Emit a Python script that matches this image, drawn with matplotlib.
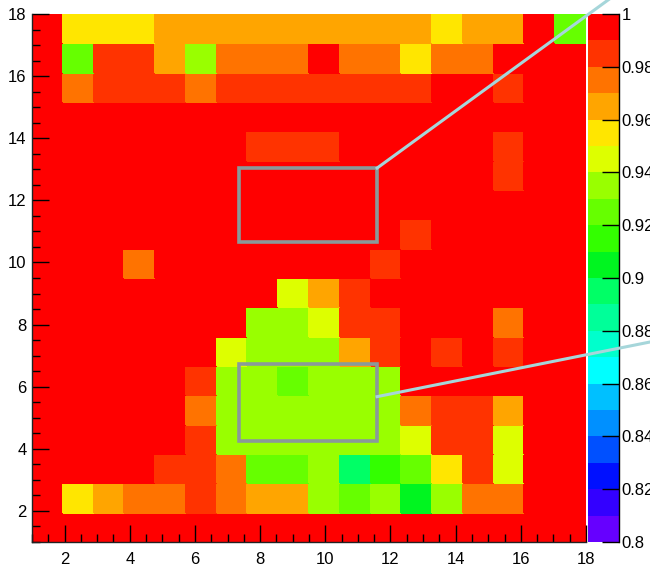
import numpy as np
import matplotlib
matplotlib.use('Agg')
from matplotlib import pyplot as plt
from matplotlib.colors import ListedColormap, BoundaryNorm
from matplotlib.patches import Rectangle
from matplotlib.lines import Line2D
from matplotlib.ticker import MultipleLocator

plt.rcParams['font.family'] = ['Liberation Sans Narrow', 'Liberation Sans', 'DejaVu Sans']

# 18 x 18 bins between 1 and 18 on both axes
x_edges = np.linspace(1, 18, 19)
y_edges = np.linspace(1, 18, 19)

# value levels as read from the palette
R, RO, O, LO, Y = 0.995, 0.985, 0.975, 0.965, 0.955
YG, GY, CH, G1, G0, SG = 0.945, 0.935, 0.925, 0.915, 0.905, 0.895

# rows from top (y bin 18) to bottom (y bin 1)
cells = [
    [R, Y, Y, Y, LO, LO, LO, LO, LO, LO, LO, LO, LO, Y, LO, LO, R, CH],
    [R, CH, RO, RO, LO, GY, O, O, O, R, O, O, Y, O, O, R, R, R],
    [R, O, RO, RO, RO, O, RO, RO, RO, RO, RO, RO, RO, R, R, RO, R, R],
    [R, R, R, R, R, R, R, R, R, R, R, R, R, R, R, R, R, R],
    [R, R, R, R, R, R, R, RO, RO, RO, R, R, R, R, R, RO, R, R],
    [R, R, R, R, R, R, R, R, R, R, R, R, R, R, R, RO, R, R],
    [R, R, R, R, R, R, R, R, R, R, R, R, R, R, R, R, R, R],
    [R, R, R, R, R, R, R, R, R, R, R, R, RO, R, R, R, R, R],
    [R, R, R, O, R, R, R, R, R, R, R, RO, R, R, R, R, R, R],
    [R, R, R, R, R, R, R, R, YG, LO, RO, R, R, R, R, R, R, R],
    [R, R, R, R, R, R, R, GY, GY, YG, RO, RO, R, R, R, O, R, R],
    [R, R, R, R, R, R, YG, GY, GY, GY, LO, RO, R, RO, R, RO, R, R],
    [R, R, R, R, R, RO, GY, GY, CH, GY, GY, GY, R, R, R, R, R, R],
    [R, R, R, R, R, O, GY, GY, GY, GY, GY, GY, O, RO, RO, LO, R, R],
    [R, R, R, R, R, RO, GY, GY, GY, GY, GY, GY, YG, RO, RO, YG, R, R],
    [R, R, R, R, RO, RO, O, CH, CH, GY, SG, G1, CH, Y, RO, YG, R, R],
    [R, Y, LO, O, O, RO, O, LO, LO, GY, CH, GY, G0, GY, O, O, R, R],
    [R, R, R, R, R, R, R, R, R, R, R, R, R, R, R, R, R, R],
]

# palette bands from 0.80 up to 1.00
levels = np.linspace(0.8, 1.0, 21)
palette = ['#6600FF', '#3300FF', '#0010FF', '#0050FF', '#0090FF', '#00C0FF',
           '#00FFFF', '#00FFCC', '#00FF99', '#00FF66', '#00F520', '#33FF00',
           '#66FF00', '#99FF00', '#DDFF00', '#FFE600', '#FFA500', '#FF7300',
           '#FF3300', '#FF0000']
cbar_ticks = np.arange(0.8, 1.001, 0.02)

# zoom boxes (x0, y0, x1, y1) and leader lines
zoom_boxes = [(7.35, 10.66, 11.59, 13.04), (7.35, 4.26, 11.59, 6.73)]
leaders = [((11.59, 19.2), (13.04, 18.85)), ((11.59, 20.3), (5.68, 7.51))]

data = np.flipud(np.array(cells))
cmap = ListedColormap(palette)
norm = BoundaryNorm(levels, cmap.N)

fig = plt.figure(figsize=(6.5, 5.67), dpi=100)
ax = fig.add_axes([32/650, 25/567, 554/650, 528/567])
cax = fig.add_axes([588/650, 25/567, 31/650, 528/567])

mesh = ax.pcolormesh(x_edges, y_edges, data, cmap=cmap, norm=norm,
                     edgecolors='face', linewidth=0.3)
ax.set_xlim(1, 18)
ax.set_ylim(1, 18)
ax.xaxis.set_major_locator(MultipleLocator(2))
ax.yaxis.set_major_locator(MultipleLocator(2))
ax.xaxis.set_minor_locator(MultipleLocator(0.5))
ax.yaxis.set_minor_locator(MultipleLocator(0.5))
ax.tick_params(which='major', direction='in', length=12, width=1.0,
               labelsize=12, colors='black')
ax.tick_params(which='minor', direction='in', length=6, width=1.0)
ax.tick_params(axis='x', which='major', pad=7)
ax.tick_params(axis='y', which='major', pad=4)
for s in ['top', 'right']:
    ax.spines[s].set_visible(False)
for s in ['left', 'bottom']:
    ax.spines[s].set_linewidth(1.0)
    ax.spines[s].set_color('#222222')

for x0, y0, x1, y1 in zoom_boxes:
    ax.add_patch(Rectangle((x0, y0), x1 - x0, y1 - y0, fill=False,
                           edgecolor='#8A9A9A', linewidth=2.6, zorder=3))

cb = fig.colorbar(mesh, cax=cax, ticks=cbar_ticks)
cb.outline.set_visible(False)
cb.ax.set_yticklabels(['%g' % round(v, 2) for v in cbar_ticks])
cax.tick_params(direction='in', length=12, width=1.0, pad=2, labelsize=12,
                right=True, left=False)
cax.minorticks_off()
cax.plot([1, 1], [0, 1], transform=cax.transAxes, color='black', lw=1.0,
         clip_on=False)

for xs, ys in leaders:
    fig.add_artist(Line2D(xs, ys, transform=ax.transData, color='#A6D6DA',
                          linewidth=2.2, zorder=5))

fig.savefig('out.png', dpi=100)
